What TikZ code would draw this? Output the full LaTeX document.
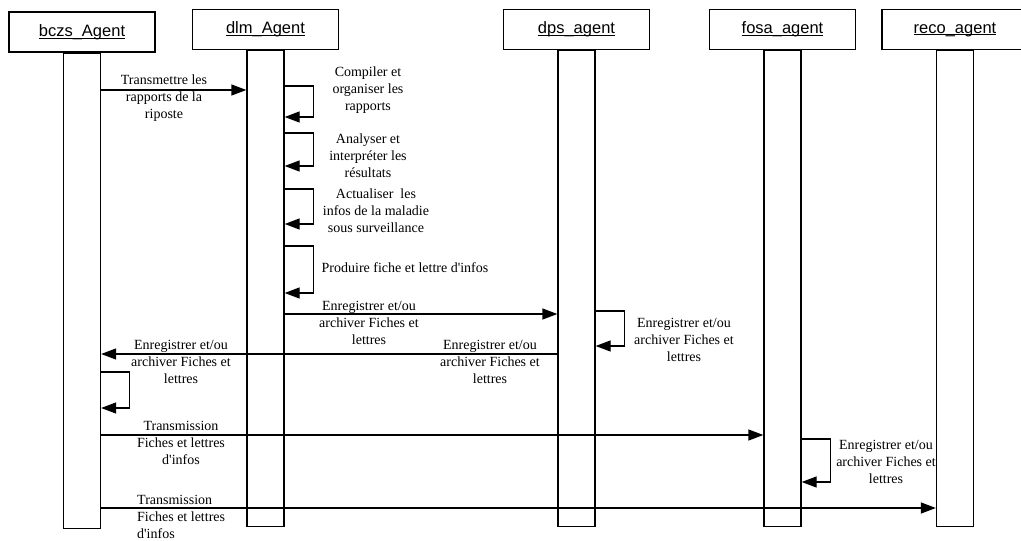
\documentclass[tikz,border=0pt]{standalone}
\usepackage{fontspec}
\setmainfont{Liberation Serif}
\newfontfamily\agentfont{Liberation Sans}
\usetikzlibrary{positioning,arrows.meta}

\newcommand{\ulname}[1]{\setbox0\hbox{#1}\rlap{\rule[-2.2pt]{\wd0}{0.9pt}}\box0}

\begin{document}
\begin{tikzpicture}[
  x=1pt, y=-1pt,
  agent/.style={rectangle, draw=black, line width=1.3pt, minimum width=146pt, minimum height=40pt, font=\agentfont\fontsize{16.5}{20}\selectfont},
  lifeline/.style={rectangle, draw=black, line width=1.3pt, minimum width=37pt, minimum height=476pt, anchor=north, inner sep=0pt},
  msg/.style={-{Triangle[length=15pt,width=11pt]}, line width=1.3pt},
  note/.style={align=center, inner sep=0pt, font=\fontsize{14}{17}\selectfont}
]
\useasboundingbox (0,0) rectangle (1021,541);

% agents
\node[agent] (bczs) at (82,32) {\ulname{bczs\_Agent}};
\node[agent] (dlm) at (265.5,29.5) {\ulname{dlm\_Agent}};
\node[agent] (dps) at (576.5,29.5) {\ulname{dps\_agent}};
\node[agent] (fosa) at (782.5,29.5) {\ulname{fosa\_agent}};
\node[agent] (reco) at (955,29.5) {\ulname{reco\_agent}};

\node[lifeline, minimum height=475pt] (bczsbar) at (bczs.south) {};
\node[lifeline] (dlmbar) at (dlm.south) {};
\node[lifeline] (dpsbar) at (dps.south) {};
\node[lifeline] (fosabar) at (fosa.south) {};
\node[lifeline] (recobar) at (reco.south) {};

% message levels
\coordinate (r1) at (0,90);
\coordinate (r2) at (0,314);
\coordinate (r3) at (0,354);
\coordinate (r4) at (0,435);
\coordinate (r5) at (0,508);
\coordinate (c1a) at (0,86);  \coordinate (c1b) at (0,117);
\coordinate (c2a) at (0,133); \coordinate (c2b) at (0,166);
\coordinate (c3a) at (0,189); \coordinate (c3b) at (0,224);
\coordinate (c4a) at (0,246); \coordinate (c4b) at (0,293);
\coordinate (c5a) at (0,311); \coordinate (c5b) at (0,346);
\coordinate (c6a) at (0,372); \coordinate (c6b) at (0,408);
\coordinate (c7a) at (0,439); \coordinate (c7b) at (0,482);

% messages
\draw[msg] (bczsbar.east |- r1) -- (dlmbar.west |- r1);
\draw[msg] (dlmbar.east |- c1a) -- ++(29,0) |- (dlmbar.east |- c1b);
\draw[msg] (dlmbar.east |- c2a) -- ++(29,0) |- (dlmbar.east |- c2b);
\draw[msg] (dlmbar.east |- c3a) -- ++(29,0) |- (dlmbar.east |- c3b);
\draw[msg] (dlmbar.east |- c4a) -- ++(29,0) |- (dlmbar.east |- c4b);
\draw[msg] (dlmbar.east |- r2) -- (dpsbar.west |- r2);
\draw[msg] (dpsbar.east |- c5a) -- ++(29,0) |- (dpsbar.east |- c5b);
\draw[msg] (dpsbar.west |- r3) -- (bczsbar.east |- r3);
\draw[msg] (bczsbar.east |- c6a) -- ++(28,0) |- (bczsbar.east |- c6b);
\draw[msg] (bczsbar.east |- r4) -- (fosabar.west |- r4);
\draw[msg] (fosabar.east |- c7a) -- ++(29,0) |- (fosabar.east |- c7b);
\draw[msg] (bczsbar.east |- r5) -- (recobar.west |- r5);

% labels
\node[note] (n1) at (164,98) {Transmettre les\\rapports de la\\riposte};
\node[note] (n2) at (368,90) {Compiler et\\organiser les\\rapports};
\node[note] (n3) at (368,156) {Analyser et\\interpréter les\\résultats};
\node[note] (n4) at (376,211) {Actualiser\ \ les\\infos de la maladie\\sous surveillance};
\node[note] (n5) at (405,268) {Produire fiche et lettre d\textquotesingle infos};
\node[note] (n6) at (369,323) {Enregistrer et/ou\\archiver Fiches et\\lettres};
\node[note] (n7) at (181,362) {Enregistrer et/ou\\archiver Fiches et\\lettres};
\node[note] (n8) at (490,362) {Enregistrer et/ou\\archiver Fiches et\\lettres};
\node[note] (n9) at (684,340) {Enregistrer et/ou\\archiver Fiches et\\lettres};
\node[note] (n10) at (181,443) {Transmission\\Fiches et lettres\\d\textquotesingle infos};
\node[note] (n11) at (886,462) {Enregistrer et/ou\\archiver Fiches et\\lettres};
\node[note, align=left, anchor=west] (n12) at (137,517) {Transmission\\Fiches et lettres\\d\textquotesingle infos};
\end{tikzpicture}
\end{document}
